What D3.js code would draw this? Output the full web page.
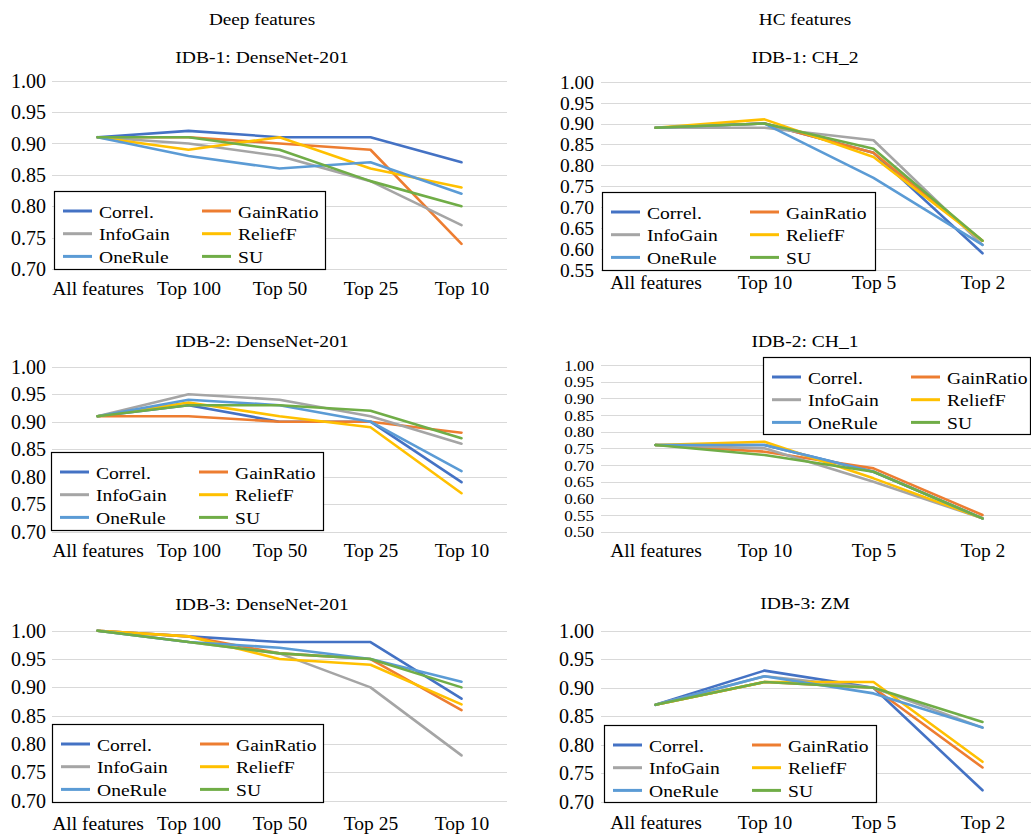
<!DOCTYPE html>
<html><head><meta charset="utf-8">
<script src="https://cdn.jsdelivr.net/npm/d3@7/dist/d3.min.js"></script>
<style>body{margin:0;background:#fff}svg, svg text{font-family:"Times New Roman","Liberation Serif","DejaVu Serif",serif !important}</style>
</head><body>
<script>
const seriesNames = ["Correl.","GainRatio","InfoGain","ReliefF","OneRule","SU"];
const seriesColors = ["#4472C4","#ED7D31","#A5A5A5","#FFC000","#5B9BD5","#70AD47"];
const deepCats = ["All features","Top 100","Top 50","Top 25","Top 10"];
const hcCats = ["All features","Top 10","Top 5","Top 2"];

// IDB-1: DenseNet-201
const idb1Deep = [
  [0.91,0.92,0.91,0.91,0.87],
  [0.91,0.91,0.90,0.89,0.74],
  [0.91,0.90,0.88,0.84,0.77],
  [0.91,0.89,0.91,0.86,0.83],
  [0.91,0.88,0.86,0.87,0.82],
  [0.91,0.91,0.89,0.84,0.80]
];
// IDB-1: CH_2
const idb1HC = [
  [0.89,0.90,0.83,0.59],
  [0.89,0.90,0.83,0.62],
  [0.89,0.89,0.86,0.61],
  [0.89,0.91,0.82,0.62],
  [0.89,0.90,0.77,0.61],
  [0.89,0.90,0.84,0.62]
];
// IDB-2: DenseNet-201
const idb2Deep = [
  [0.91,0.93,0.90,0.90,0.79],
  [0.91,0.91,0.90,0.90,0.88],
  [0.91,0.95,0.94,0.91,0.86],
  [0.91,0.935,0.91,0.89,0.77],
  [0.91,0.94,0.93,0.90,0.81],
  [0.91,0.93,0.93,0.92,0.87]
];
// IDB-2: CH_1
const idb2HC = [
  [0.76,0.76,0.68,0.54],
  [0.76,0.74,0.69,0.55],
  [0.76,0.75,0.65,0.54],
  [0.76,0.77,0.66,0.54],
  [0.76,0.76,0.68,0.54],
  [0.76,0.73,0.68,0.54]
];
// IDB-3: DenseNet-201
const idb3Deep = [
  [1.00,0.99,0.98,0.98,0.88],
  [1.00,0.99,0.96,0.95,0.86],
  [1.00,0.98,0.96,0.90,0.78],
  [1.00,0.99,0.95,0.94,0.87],
  [1.00,0.98,0.97,0.95,0.91],
  [1.00,0.98,0.96,0.95,0.90]
];
// IDB-3: ZM
const idb3HC = [
  [0.87,0.93,0.90,0.72],
  [0.87,0.91,0.90,0.76],
  [0.87,0.92,0.90,0.83],
  [0.87,0.91,0.91,0.77],
  [0.87,0.92,0.89,0.83],
  [0.87,0.91,0.90,0.84]
];
const ticks30 = [0.70,0.75,0.80,0.85,0.90,0.95,1.00];
const ticks55 = [0.55,0.60,0.65,0.70,0.75,0.80,0.85,0.90,0.95,1.00];
const ticks50 = [0.50,0.55,0.60,0.65,0.70,0.75,0.80,0.85,0.90,0.95,1.00];

const FONT = '"Times New Roman","Liberation Serif","DejaVu Serif",serif';
const W = 1031, H = 835;
const svg = d3.select("body").append("svg").attr("width",W).attr("height",H)
  .style("font-family",FONT);

function txt(g, x, y, s, size, anchor, sx){
  return g.append("text")
    .attr("transform",`translate(${x},${y}) scale(${sx||1},1)`)
    .attr("text-anchor",anchor||"middle")
    .style("font-family",FONT)
    .attr("font-size",size).attr("fill","#000").text(s);
}

// column headers
txt(svg, 262, 25, "Deep features", 17.5, "middle", 1.1);
txt(svg, 805, 25, "HC features", 17.5, "middle", 1.1);

const panels = [
  {title:"IDB-1: DenseNet-201", tx:262, ty:63, cats:deepCats, data:idb1Deep, ticks:ticks30,
   x0:52, x1:507, yTop:80.7, yBot:269, gx1:507, tickX:46, tickSize:20, tickSX:1, labY:295,
   leg:{x:54,y:191,w:271,h:78}},
  {title:"IDB-1: CH_2", tx:805, ty:63, cats:hcCats, data:idb1HC, ticks:ticks55,
   x0:601, x1:1037, yTop:81.7, yBot:270, gx1:1031, tickX:594, tickSize:19.5, tickSX:1, labY:289,
   leg:{x:602,y:192,w:273,h:78}},
  {title:"IDB-2: DenseNet-201", tx:262, ty:347, cats:deepCats, data:idb2Deep, ticks:ticks30,
   x0:52, x1:507, yTop:366.7, yBot:531.7, gx1:507, tickX:46, tickSize:20, tickSX:1, labY:557,
   leg:{x:51,y:452,w:272,h:78}},
  {title:"IDB-2: CH_1", tx:805, ty:347, cats:hcCats, data:idb2HC, ticks:ticks50,
   x0:601, x1:1037, yTop:365, yBot:531.7, gx1:1031, tickX:594, tickSize:15.5, tickSX:1.1, labY:557,
   leg:{x:763,y:357,w:267,h:77}},
  {title:"IDB-3: DenseNet-201", tx:262, ty:610, cats:deepCats, data:idb3Deep, ticks:ticks30,
   x0:52, x1:507, yTop:630.7, yBot:800.7, gx1:507, tickX:46, tickSize:20, tickSX:1, labY:830,
   leg:{x:52,y:724,w:271,h:78}},
  {title:"IDB-3: ZM", tx:805, ty:609, cats:hcCats, data:idb3HC, ticks:ticks30,
   x0:601, x1:1037, yTop:630.7, yBot:801.7, gx1:1031, tickX:594, tickSize:20, tickSX:1, labY:829,
   leg:{x:604,y:725,w:272,h:77}}
];

panels.forEach(p => {
  const g = svg.append("g");
  const x = d3.scalePoint().domain(p.cats).range([p.x0,p.x1]).padding(0.5);
  const y = d3.scaleLinear().domain([p.ticks[0], p.ticks[p.ticks.length-1]]).range([p.yBot,p.yTop]);

  txt(g, p.tx, p.ty, p.title, 17.5, "middle", 1.12);

  // gridlines
  g.append("g").selectAll("line").data(p.ticks).join("line")
    .attr("x1",p.x0).attr("x2",p.gx1)
    .attr("y1",d=>Math.round(y(d))+0.5).attr("y2",d=>Math.round(y(d))+0.5)
    .attr("stroke","#d9d9d9").attr("stroke-width",1);

  // y tick labels via axis
  const ya = d3.axisLeft(y).tickValues(p.ticks).tickFormat(d3.format(".2f")).tickSize(0).tickPadding(0);
  const yg = g.append("g").attr("transform",`translate(${p.tickX},0)`).call(ya)
    .attr("font-family",null).style("font-family",FONT);
  yg.select(".domain").remove();
  yg.selectAll("text").attr("font-size",p.tickSize).style("font-family",FONT).attr("fill","#000")
    .attr("dy","0.33em").attr("transform",`scale(${p.tickSX},1)`);

  // x labels via axis
  const xa = d3.axisBottom(x).tickSize(0).tickPadding(0);
  const xg = g.append("g").attr("transform",`translate(0,${p.labY})`).call(xa)
    .attr("font-family",null).style("font-family",FONT);
  xg.select(".domain").remove();
  xg.selectAll("text").attr("font-size",19.5).style("font-family",FONT).attr("fill","#000").attr("dy","0");

  // lines
  const line = d3.line().x((d,i)=>x(p.cats[i])).y(d=>y(d));
  p.data.forEach((vals,si) => {
    g.append("path").datum(vals).attr("d",line)
      .attr("fill","none").attr("stroke",seriesColors[si]).attr("stroke-width",2.6)
      .attr("stroke-linejoin","round").attr("stroke-linecap","round");
  });

  // legend
  const L = p.leg;
  const lg = g.append("g").attr("transform",`translate(${L.x},${L.y})`);
  lg.append("rect").attr("x",0.5).attr("y",0.5).attr("width",L.w).attr("height",L.h)
    .attr("fill","#fff").attr("stroke","#000").attr("stroke-width",1.2);
  seriesNames.forEach((n,i) => {
    const col = i%2, row = Math.floor(i/2);
    const lx = col===0 ? 9 : 148;
    const ly = 20 + row*22.7;
    lg.append("line").attr("x1",lx).attr("x2",lx+29).attr("y1",ly).attr("y2",ly)
      .attr("stroke",seriesColors[i]).attr("stroke-width",3);
    txt(lg, lx+36, ly+6.5, n, 17.5, "start", 1.12);
  });
});
</script>
</body></html>
